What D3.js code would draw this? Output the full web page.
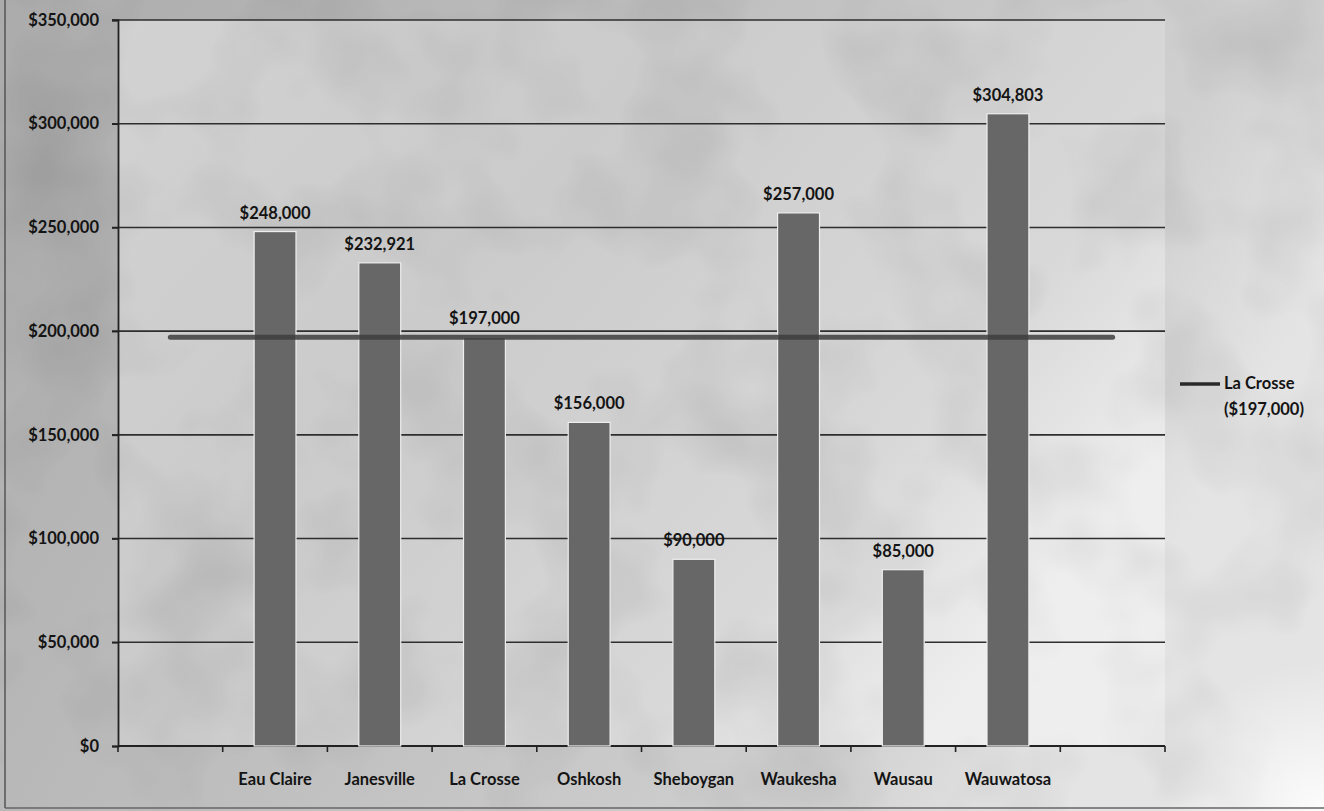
<!DOCTYPE html>
<html>
<head>
<meta charset="utf-8">
<script src="https://cdn.jsdelivr.net/npm/d3@7"></script>
<style>
  html, body { margin: 0; padding: 0; background: #fff; }
  svg { display: block; }
  text { font-family: Lato, "Open Sans", sans-serif; font-weight: 700; fill: #141414; }
</style>
</head>
<body>
<svg id="chart" width="1324" height="811"></svg>
<script>
// ---- data ----
const categories = ["", "Eau Claire", "Janesville", "La Crosse", "Oshkosh", "Sheboygan", "Waukesha", "Wausau", "Wauwatosa", ""];
const barValues  = [null, 248000, 232921, 197000, 156000, 90000, 257000, 85000, 304803, null];
const lineValues = [197000, 197000, 197000, 197000, 197000, 197000, 197000, 197000, 197000, 197000];
const yTicks     = [0, 50000, 100000, 150000, 200000, 250000, 300000, 350000];
const legendLabel = ["La Crosse", "($197,000)"];

// ---- layout ----
const W = 1324, H = 811;
const plot = { left: 118, right: 1165, top: 20, bottom: 746 };
const FS = 16.5;
const svg = d3.select("#chart");
const defs = svg.append("defs");

// background gradients
const bg = defs.append("linearGradient").attr("id", "bg").attr("x1", 0).attr("y1", 0).attr("x2", 1).attr("y2", 0.35);
bg.append("stop").attr("offset", "0%").attr("stop-color", "#ababab");
bg.append("stop").attr("offset", "45%").attr("stop-color", "#bebebe");
bg.append("stop").attr("offset", "85%").attr("stop-color", "#d0d0d0");
bg.append("stop").attr("offset", "100%").attr("stop-color", "#e4e4e4");

const pg = defs.append("linearGradient").attr("id", "pg").attr("x1", 0).attr("y1", 0).attr("x2", 1).attr("y2", 0.6);
pg.append("stop").attr("offset", "0%").attr("stop-color", "#d2d2d2");
pg.append("stop").attr("offset", "40%").attr("stop-color", "#cbcbcb");
pg.append("stop").attr("offset", "80%").attr("stop-color", "#d8d8d8");
pg.append("stop").attr("offset", "100%").attr("stop-color", "#eeeeee");

const corner = defs.append("radialGradient").attr("id", "corner").attr("cx", 1).attr("cy", 1).attr("r", 0.5);
corner.append("stop").attr("offset", "0%").attr("stop-color", "#ffffff").attr("stop-opacity", 1);
corner.append("stop").attr("offset", "100%").attr("stop-color", "#ffffff").attr("stop-opacity", 0);

const noise = defs.append("filter").attr("id", "noise").attr("x", 0).attr("y", 0).attr("width", "100%").attr("height", "100%");
noise.append("feTurbulence").attr("type", "fractalNoise").attr("baseFrequency", "0.008").attr("numOctaves", 3).attr("seed", 11);
noise.append("feColorMatrix").attr("type", "matrix")
  .attr("values", "0 0 0 0 0  0 0 0 0 0  0 0 0 0 0  0 0 0 -0.9 0.5");

svg.append("rect").attr("width", W).attr("height", H).attr("fill", "url(#bg)");
svg.append("rect").attr("x", plot.left).attr("y", plot.top)
  .attr("width", plot.right - plot.left).attr("height", plot.bottom - plot.top).attr("fill", "url(#pg)");
svg.append("rect").attr("width", W).attr("height", H).attr("filter", "url(#noise)").attr("opacity", 0.22);
svg.append("rect").attr("x", W - 330).attr("y", H - 300).attr("width", 330).attr("height", 300).attr("fill", "url(#corner)").attr("opacity", 0.9);

// frame lines (left & bottom edge of scan)
svg.append("line").attr("x1", 5).attr("x2", 5).attr("y1", 0).attr("y2", 808).attr("stroke", "#555").attr("stroke-width", 1.5);
svg.append("line").attr("x1", 5).attr("x2", 1324).attr("y1", 808).attr("y2", 808).attr("stroke", "#666").attr("stroke-width", 1.5);

// ---- scales ----
const x = d3.scaleBand().domain(d3.range(categories.length)).range([plot.left, plot.right]).padding(0);
const y = d3.scaleLinear().domain([0, 350000]).range([plot.bottom, plot.top]);
const fmt = v => "$" + d3.format(",")(v);

// gridlines
svg.append("g").selectAll("line").data(yTicks.filter(v => v > 0)).join("line")
  .attr("x1", plot.left - 6).attr("x2", plot.right)
  .attr("y1", d => y(d)).attr("y2", d => y(d))
  .attr("stroke", "#2e2e2e").attr("stroke-width", 1.6);

// y axis
const yAxis = svg.append("g").attr("transform", `translate(${plot.left},0)`)
  .call(d3.axisLeft(y).tickValues(yTicks).tickFormat(fmt).tickSize(6).tickPadding(13));
yAxis.select(".domain").attr("stroke", "#222").attr("stroke-width", 1.8);
yAxis.selectAll(".tick line").attr("stroke", "#222").attr("stroke-width", 1.6);
yAxis.selectAll("text").attr("font-size", FS).attr("fill", "#141414")
  .attr("font-family", "Lato, sans-serif").attr("font-weight", 700);

// x axis
const xAxis = svg.append("g").attr("transform", `translate(0,${plot.bottom})`)
  .call(d3.axisBottom(x).tickFormat(i => categories[i]).tickSize(0).tickPadding(27));
xAxis.select(".domain").remove();
xAxis.selectAll("text").attr("font-size", FS).attr("fill", "#141414")
  .attr("font-family", "Lato, sans-serif").attr("font-weight", 700);
const boundaries = d3.range(categories.length + 1).map(i => i < categories.length ? x(i) : x(i - 1) + x.bandwidth());
svg.append("g").selectAll("line").data(boundaries).join("line")
  .attr("x1", d => d).attr("x2", d => d).attr("y1", plot.bottom).attr("y2", plot.bottom + 6)
  .attr("stroke", "#222").attr("stroke-width", 1.6);
svg.append("line").attr("x1", plot.left).attr("x2", plot.right)
  .attr("y1", plot.bottom).attr("y2", plot.bottom).attr("stroke", "#222").attr("stroke-width", 1.8);

// bars
const barW = x.bandwidth() * 0.4;
const bars = barValues.map((v, i) => ({ i, v })).filter(d => d.v != null);
svg.append("g").selectAll("rect").data(bars).join("rect")
  .attr("x", d => x(d.i) + (x.bandwidth() - barW) / 2)
  .attr("width", barW)
  .attr("y", d => y(d.v))
  .attr("height", d => y(0) - y(d.v))
  .attr("fill", "#676767").attr("stroke", "#eeeeee").attr("stroke-width", 1.2);

// line series
const line = d3.line().x((d, i) => x(i) + x.bandwidth() / 2).y(d => y(d));
svg.append("path").datum(lineValues).attr("d", line)
  .attr("fill", "none").attr("stroke", "#3d3d3d").attr("stroke-opacity", 0.85)
  .attr("stroke-width", 5).attr("stroke-linecap", "round");

// data labels
svg.append("g").selectAll("text").data(bars).join("text")
  .attr("x", d => x(d.i) + x.bandwidth() / 2)
  .attr("y", d => y(d.v) - 13)
  .attr("text-anchor", "middle").attr("font-size", FS)
  .text(d => fmt(d.v));

// legend
const lg = svg.append("g").attr("transform", "translate(1180,384)");
lg.append("line").attr("x1", 0).attr("x2", 40).attr("y1", 0).attr("y2", 0)
  .attr("stroke", "#2a2a2a").attr("stroke-width", 3.5);
lg.selectAll("text").data(legendLabel).join("text")
  .attr("x", 44).attr("y", (d, i) => 5 + i * 26)
  .attr("font-size", FS).text(d => d);
</script>
</body>
</html>
